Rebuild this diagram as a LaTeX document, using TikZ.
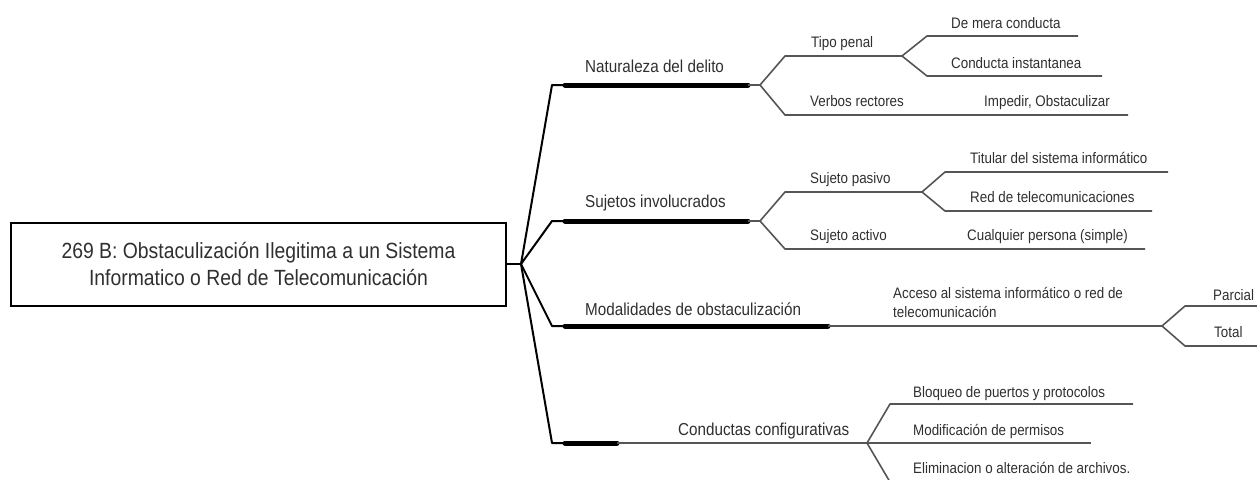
\documentclass[tikz,border=0pt]{standalone}
\usepackage{fontspec}
\setmainfont{Liberation Sans}[FakeStretch=0.88]
\definecolor{ink}{HTML}{2F2F2F}
\definecolor{wire}{HTML}{555555}
\begin{document}
\begin{tikzpicture}[x=1pt,y=-1pt,
  rootbox/.style={draw=black,line width=2pt,minimum width=495pt,minimum height=83pt,
    inner sep=0pt,align=center,text=ink,font=\fontsize{22}{27}\selectfont},
  branchlbl/.style={anchor=base west,inner sep=0pt,text=ink,font=\fontsize{17.3}{20}\selectfont},
  leaflbl/.style={anchor=base west,inner sep=0pt,text=ink,font=\fontsize{15.2}{19}\selectfont},
  fan/.style={draw=black,line width=2pt,line join=round},
  bar/.style={draw=black,line width=5pt,line cap=round},
  twig/.style={draw=wire,line width=1.6pt,line join=round}]
\useasboundingbox (0,0) rectangle (1257,479);
\clip (0,0) rectangle (1257,479);

% root
\node[rootbox] (root) at (258.5,264.5)
  {269 B: Obstaculización Ilegitima a un Sistema\\Informatico o Red de Telecomunicación};
\coordinate (f0) at (521,264);
\draw[fan] (root.east |- f0) -- (f0);

% main branches: corner, bar start, bar end
\foreach \n/\y/\e in {a/85/748, b/221/748, c/326/828, d/443/617}{
  \coordinate (\n c) at (552,\y);
  \coordinate (\n s) at (565,\y);
  \coordinate (\n e) at (\e,\y);
}
\draw[fan] (f0) -- (ac) -- (as);
\draw[fan] (f0) -- (bc) -- (bs);
\draw[fan] (f0) -- (cc) -- (cs);
\draw[fan] (f0) -- (dc) -- (ds);
\draw[bar] (as) -- (ae);
\draw[bar] (bs) -- (be);
\draw[bar] (cs) -- (ce);
\draw[bar] (ds) -- (de);

\node[branchlbl] (nat) at (585,72) {Naturaleza del delito};
\node[branchlbl] (suj) at (585,207) {Sujetos involucrados};
\node[branchlbl] (mod) at (585,315) {Modalidades de obstaculización};
\node[branchlbl] (con) at (678,435) {Conductas configurativas};

% Naturaleza del delito
\coordinate (fa) at (760,85);
\coordinate (tp) at (785,56);
\coordinate (ftp) at (902,56);
\coordinate (vr) at (785,115);
\coordinate (vre) at (1128,115);
\coordinate (dm) at (927,36);
\coordinate (dme) at (1078,36);
\coordinate (ci) at (927,76);
\coordinate (cie) at (1102,76);
\draw[twig] (ae) -- (fa);
\draw[twig] (fa) -- (tp) -- (ftp);
\draw[twig] (fa) -- (vr) -- (vre);
\draw[twig] (ftp) -- (dm) -- (dme);
\draw[twig] (ftp) -- (ci) -- (cie);
\node[leaflbl] (tpl) at (811,47) {Tipo penal};
\node[leaflbl] (vrl) at (810,106) {Verbos rectores};
\node[leaflbl] (dml) at (951,28) {De mera conducta};
\node[leaflbl] (cil) at (951,68) {Conducta instantanea};
\node[leaflbl] (iol) at (984,106) {Impedir, Obstaculizar};

% Sujetos involucrados
\coordinate (fb) at (760,221);
\coordinate (sp) at (785,192);
\coordinate (fsp) at (922,192);
\coordinate (sa) at (785,249);
\coordinate (sae) at (1145,249);
\coordinate (ti) at (945,172);
\coordinate (tie) at (1168,172);
\coordinate (rt) at (945,211);
\coordinate (rte) at (1152,211);
\draw[twig] (be) -- (fb);
\draw[twig] (fb) -- (sp) -- (fsp);
\draw[twig] (fb) -- (sa) -- (sae);
\draw[twig] (fsp) -- (ti) -- (tie);
\draw[twig] (fsp) -- (rt) -- (rte);
\node[leaflbl] (spl) at (810,183) {Sujeto pasivo};
\node[leaflbl] (sal) at (810,240) {Sujeto activo};
\node[leaflbl] (til) at (970,163) {Titular del sistema informático};
\node[leaflbl] (rtl) at (970,202) {Red de telecomunicaciones};
\node[leaflbl] (cpl) at (967,240) {Cualquier persona (simple)};

% Modalidades de obstaculización
\coordinate (fc) at (1162,326);
\coordinate (pa) at (1185,306);
\coordinate (pae) at (1262,306);
\coordinate (to) at (1185,346);
\coordinate (toe) at (1262,346);
\draw[twig] (ce) -- (fc);
\draw[twig] (fc) -- (pa) -- (pae);
\draw[twig] (fc) -- (to) -- (toe);
% two-line label: its base anchor sits on the last line
\node[leaflbl,align=left] (acl) at (893,317)
  {Acceso al sistema informático o red de\\telecomunicación};
\node[leaflbl] (pal) at (1213,300) {Parcial};
\node[leaflbl] (tol) at (1214,337) {Total};

% Conductas configurativas
\coordinate (fd) at (867,443);
\coordinate (bq) at (890,404);
\coordinate (bqe) at (1133,404);
\coordinate (mpe) at (1091,443);
\coordinate (el) at (890,482);
\coordinate (ele) at (1133,482);
\draw[twig] (de) -- (fd) -- (mpe);
\draw[twig] (fd) -- (bq) -- (bqe);
\draw[twig] (fd) -- (el) -- (ele);
\node[leaflbl] (bql) at (913,397) {Bloqueo de puertos y protocolos};
\node[leaflbl] (mpl) at (913,435) {Modificación de permisos};
\node[leaflbl] (ell) at (913,473) {Eliminacion o alteración de archivos.};
\end{tikzpicture}
\end{document}
